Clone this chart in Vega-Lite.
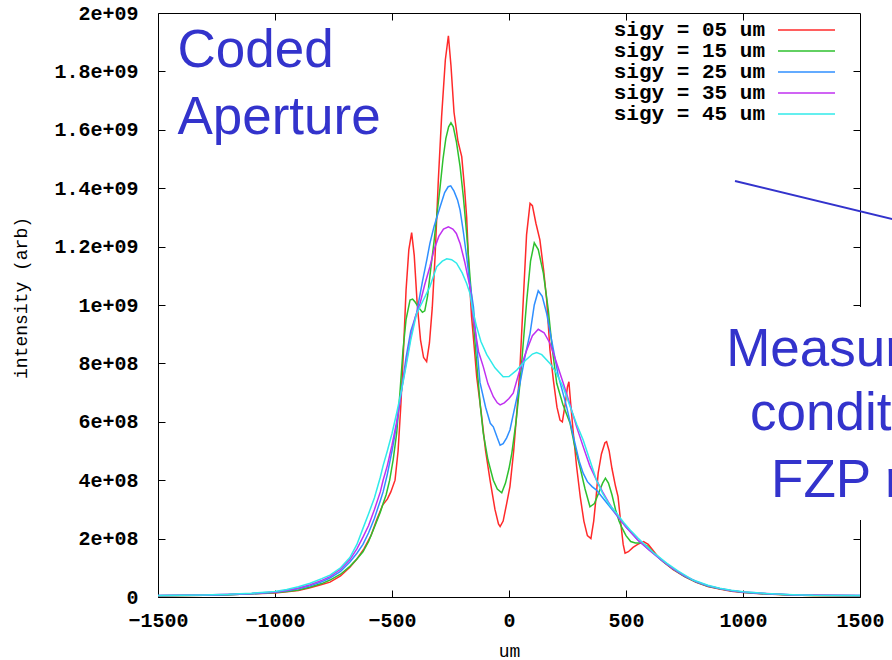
{
"$schema": "https://vega.github.io/schema/vega-lite/v6.json",
"width": 702, "height": 584,
"autosize": {"type": "none"},
"padding": {"left": 158, "top": 13, "right": 32, "bottom": 63},
"background": "white",
"config": {"view": {"stroke": "black", "strokeWidth": 1}},
"datasets": {"curves": [
{"s":"sigy = 05 um","x":-1500,"y":0.004e9},{"s":"sigy = 05 um","x":-1300,"y":0.006e9},{"s":"sigy = 05 um","x":-1200,"y":0.008e9},{"s":"sigy = 05 um","x":-1100,"y":0.011e9},{"s":"sigy = 05 um","x":-1000,"y":0.014e9},{"s":"sigy = 05 um","x":-950,"y":0.018e9},{"s":"sigy = 05 um","x":-900,"y":0.022e9},{"s":"sigy = 05 um","x":-850,"y":0.032e9},{"s":"sigy = 05 um","x":-800,"y":0.043e9},{"s":"sigy = 05 um","x":-765,"y":0.051e9},{"s":"sigy = 05 um","x":-720,"y":0.072e9},{"s":"sigy = 05 um","x":-680,"y":0.102e9},{"s":"sigy = 05 um","x":-650,"y":0.13e9},{"s":"sigy = 05 um","x":-620,"y":0.165e9},{"s":"sigy = 05 um","x":-590,"y":0.21e9},{"s":"sigy = 05 um","x":-565,"y":0.265e9},{"s":"sigy = 05 um","x":-540,"y":0.315e9},{"s":"sigy = 05 um","x":-520,"y":0.335e9},{"s":"sigy = 05 um","x":-505,"y":0.36e9},{"s":"sigy = 05 um","x":-487,"y":0.40e9},{"s":"sigy = 05 um","x":-474,"y":0.50e9},{"s":"sigy = 05 um","x":-462,"y":0.66e9},{"s":"sigy = 05 um","x":-450,"y":0.86e9},{"s":"sigy = 05 um","x":-440,"y":1.05e9},{"s":"sigy = 05 um","x":-428,"y":1.19e9},{"s":"sigy = 05 um","x":-416,"y":1.248e9},{"s":"sigy = 05 um","x":-405,"y":1.17e9},{"s":"sigy = 05 um","x":-392,"y":1.0e9},{"s":"sigy = 05 um","x":-378,"y":0.88e9},{"s":"sigy = 05 um","x":-365,"y":0.82e9},{"s":"sigy = 05 um","x":-352,"y":0.806e9},{"s":"sigy = 05 um","x":-340,"y":0.87e9},{"s":"sigy = 05 um","x":-328,"y":0.99e9},{"s":"sigy = 05 um","x":-316,"y":1.165e9},{"s":"sigy = 05 um","x":-302,"y":1.428e9},{"s":"sigy = 05 um","x":-288,"y":1.645e9},{"s":"sigy = 05 um","x":-272,"y":1.84e9},{"s":"sigy = 05 um","x":-259,"y":1.922e9},{"s":"sigy = 05 um","x":-248,"y":1.82e9},{"s":"sigy = 05 um","x":-235,"y":1.66e9},{"s":"sigy = 05 um","x":-218,"y":1.56e9},{"s":"sigy = 05 um","x":-202,"y":1.508e9},{"s":"sigy = 05 um","x":-190,"y":1.40e9},{"s":"sigy = 05 um","x":-181,"y":1.30e9},{"s":"sigy = 05 um","x":-170,"y":1.10e9},{"s":"sigy = 05 um","x":-160,"y":0.96e9},{"s":"sigy = 05 um","x":-148,"y":0.85e9},{"s":"sigy = 05 um","x":-138,"y":0.754e9},{"s":"sigy = 05 um","x":-120,"y":0.64e9},{"s":"sigy = 05 um","x":-100,"y":0.50e9},{"s":"sigy = 05 um","x":-81,"y":0.40e9},{"s":"sigy = 05 um","x":-60,"y":0.30e9},{"s":"sigy = 05 um","x":-45,"y":0.25e9},{"s":"sigy = 05 um","x":-38,"y":0.241e9},{"s":"sigy = 05 um","x":-25,"y":0.26e9},{"s":"sigy = 05 um","x":-10,"y":0.32e9},{"s":"sigy = 05 um","x":4,"y":0.378e9},{"s":"sigy = 05 um","x":20,"y":0.50e9},{"s":"sigy = 05 um","x":35,"y":0.65e9},{"s":"sigy = 05 um","x":47,"y":0.789e9},{"s":"sigy = 05 um","x":61,"y":1.017e9},{"s":"sigy = 05 um","x":75,"y":1.24e9},{"s":"sigy = 05 um","x":90,"y":1.348e9},{"s":"sigy = 05 um","x":100,"y":1.34e9},{"s":"sigy = 05 um","x":115,"y":1.28e9},{"s":"sigy = 05 um","x":132,"y":1.223e9},{"s":"sigy = 05 um","x":148,"y":1.12e9},{"s":"sigy = 05 um","x":161,"y":1.017e9},{"s":"sigy = 05 um","x":175,"y":0.846e9},{"s":"sigy = 05 um","x":190,"y":0.74e9},{"s":"sigy = 05 um","x":205,"y":0.65e9},{"s":"sigy = 05 um","x":218,"y":0.606e9},{"s":"sigy = 05 um","x":228,"y":0.60e9},{"s":"sigy = 05 um","x":240,"y":0.66e9},{"s":"sigy = 05 um","x":250,"y":0.72e9},{"s":"sigy = 05 um","x":256,"y":0.737e9},{"s":"sigy = 05 um","x":265,"y":0.65e9},{"s":"sigy = 05 um","x":275,"y":0.56e9},{"s":"sigy = 05 um","x":289,"y":0.446e9},{"s":"sigy = 05 um","x":305,"y":0.34e9},{"s":"sigy = 05 um","x":320,"y":0.26e9},{"s":"sigy = 05 um","x":335,"y":0.21e9},{"s":"sigy = 05 um","x":350,"y":0.20e9},{"s":"sigy = 05 um","x":362,"y":0.26e9},{"s":"sigy = 05 um","x":372,"y":0.34e9},{"s":"sigy = 05 um","x":381,"y":0.424e9},{"s":"sigy = 05 um","x":395,"y":0.49e9},{"s":"sigy = 05 um","x":410,"y":0.528e9},{"s":"sigy = 05 um","x":417,"y":0.532e9},{"s":"sigy = 05 um","x":428,"y":0.50e9},{"s":"sigy = 05 um","x":440,"y":0.44e9},{"s":"sigy = 05 um","x":455,"y":0.38e9},{"s":"sigy = 05 um","x":466,"y":0.344e9},{"s":"sigy = 05 um","x":478,"y":0.25e9},{"s":"sigy = 05 um","x":488,"y":0.18e9},{"s":"sigy = 05 um","x":496,"y":0.15e9},{"s":"sigy = 05 um","x":510,"y":0.155e9},{"s":"sigy = 05 um","x":530,"y":0.17e9},{"s":"sigy = 05 um","x":550,"y":0.18e9},{"s":"sigy = 05 um","x":575,"y":0.19e9},{"s":"sigy = 05 um","x":595,"y":0.18e9},{"s":"sigy = 05 um","x":615,"y":0.16e9},{"s":"sigy = 05 um","x":635,"y":0.14e9},{"s":"sigy = 05 um","x":660,"y":0.12e9},{"s":"sigy = 05 um","x":700,"y":0.095e9},{"s":"sigy = 05 um","x":750,"y":0.07e9},{"s":"sigy = 05 um","x":800,"y":0.05e9},{"s":"sigy = 05 um","x":850,"y":0.036e9},{"s":"sigy = 05 um","x":900,"y":0.027e9},{"s":"sigy = 05 um","x":950,"y":0.02e9},{"s":"sigy = 05 um","x":1000,"y":0.015e9},{"s":"sigy = 05 um","x":1100,"y":0.01e9},{"s":"sigy = 05 um","x":1200,"y":0.007e9},{"s":"sigy = 05 um","x":1300,"y":0.005e9},{"s":"sigy = 05 um","x":1500,"y":0.004e9},
{"s":"sigy = 15 um","x":-1500,"y":0.004e9},{"s":"sigy = 15 um","x":-1300,"y":0.006e9},{"s":"sigy = 15 um","x":-1200,"y":0.008e9},{"s":"sigy = 15 um","x":-1100,"y":0.011e9},{"s":"sigy = 15 um","x":-1000,"y":0.015e9},{"s":"sigy = 15 um","x":-950,"y":0.019e9},{"s":"sigy = 15 um","x":-900,"y":0.024e9},{"s":"sigy = 15 um","x":-850,"y":0.034e9},{"s":"sigy = 15 um","x":-800,"y":0.046e9},{"s":"sigy = 15 um","x":-765,"y":0.058e9},{"s":"sigy = 15 um","x":-720,"y":0.078e9},{"s":"sigy = 15 um","x":-680,"y":0.105e9},{"s":"sigy = 15 um","x":-650,"y":0.13e9},{"s":"sigy = 15 um","x":-624,"y":0.155e9},{"s":"sigy = 15 um","x":-600,"y":0.19e9},{"s":"sigy = 15 um","x":-575,"y":0.24e9},{"s":"sigy = 15 um","x":-550,"y":0.29e9},{"s":"sigy = 15 um","x":-538,"y":0.32e9},{"s":"sigy = 15 um","x":-525,"y":0.35e9},{"s":"sigy = 15 um","x":-510,"y":0.40e9},{"s":"sigy = 15 um","x":-495,"y":0.47e9},{"s":"sigy = 15 um","x":-480,"y":0.561e9},{"s":"sigy = 15 um","x":-466,"y":0.70e9},{"s":"sigy = 15 um","x":-453,"y":0.846e9},{"s":"sigy = 15 um","x":-440,"y":0.95e9},{"s":"sigy = 15 um","x":-423,"y":1.017e9},{"s":"sigy = 15 um","x":-412,"y":1.02e9},{"s":"sigy = 15 um","x":-402,"y":1.011e9},{"s":"sigy = 15 um","x":-385,"y":0.99e9},{"s":"sigy = 15 um","x":-370,"y":0.975e9},{"s":"sigy = 15 um","x":-360,"y":0.98e9},{"s":"sigy = 15 um","x":-348,"y":1.03e9},{"s":"sigy = 15 um","x":-335,"y":1.12e9},{"s":"sigy = 15 um","x":-320,"y":1.22e9},{"s":"sigy = 15 um","x":-308,"y":1.31e9},{"s":"sigy = 15 um","x":-295,"y":1.40e9},{"s":"sigy = 15 um","x":-282,"y":1.50e9},{"s":"sigy = 15 um","x":-270,"y":1.57e9},{"s":"sigy = 15 um","x":-258,"y":1.61e9},{"s":"sigy = 15 um","x":-248,"y":1.624e9},{"s":"sigy = 15 um","x":-238,"y":1.61e9},{"s":"sigy = 15 um","x":-225,"y":1.56e9},{"s":"sigy = 15 um","x":-209,"y":1.474e9},{"s":"sigy = 15 um","x":-195,"y":1.37e9},{"s":"sigy = 15 um","x":-181,"y":1.245e9},{"s":"sigy = 15 um","x":-170,"y":1.13e9},{"s":"sigy = 15 um","x":-159,"y":1.017e9},{"s":"sigy = 15 um","x":-148,"y":0.90e9},{"s":"sigy = 15 um","x":-135,"y":0.77e9},{"s":"sigy = 15 um","x":-122,"y":0.65e9},{"s":"sigy = 15 um","x":-110,"y":0.561e9},{"s":"sigy = 15 um","x":-90,"y":0.47e9},{"s":"sigy = 15 um","x":-67,"y":0.40e9},{"s":"sigy = 15 um","x":-50,"y":0.37e9},{"s":"sigy = 15 um","x":-31,"y":0.357e9},{"s":"sigy = 15 um","x":-15,"y":0.39e9},{"s":"sigy = 15 um","x":0,"y":0.44e9},{"s":"sigy = 15 um","x":12,"y":0.492e9},{"s":"sigy = 15 um","x":30,"y":0.60e9},{"s":"sigy = 15 um","x":47,"y":0.732e9},{"s":"sigy = 15 um","x":62,"y":0.88e9},{"s":"sigy = 15 um","x":76,"y":1.017e9},{"s":"sigy = 15 um","x":92,"y":1.15e9},{"s":"sigy = 15 um","x":108,"y":1.213e9},{"s":"sigy = 15 um","x":125,"y":1.19e9},{"s":"sigy = 15 um","x":147,"y":1.108e9},{"s":"sigy = 15 um","x":168,"y":0.983e9},{"s":"sigy = 15 um","x":185,"y":0.85e9},{"s":"sigy = 15 um","x":204,"y":0.732e9},{"s":"sigy = 15 um","x":230,"y":0.66e9},{"s":"sigy = 15 um","x":261,"y":0.595e9},{"s":"sigy = 15 um","x":280,"y":0.52e9},{"s":"sigy = 15 um","x":303,"y":0.446e9},{"s":"sigy = 15 um","x":325,"y":0.37e9},{"s":"sigy = 15 um","x":346,"y":0.309e9},{"s":"sigy = 15 um","x":365,"y":0.32e9},{"s":"sigy = 15 um","x":385,"y":0.36e9},{"s":"sigy = 15 um","x":400,"y":0.39e9},{"s":"sigy = 15 um","x":412,"y":0.407e9},{"s":"sigy = 15 um","x":425,"y":0.39e9},{"s":"sigy = 15 um","x":440,"y":0.35e9},{"s":"sigy = 15 um","x":455,"y":0.30e9},{"s":"sigy = 15 um","x":470,"y":0.26e9},{"s":"sigy = 15 um","x":481,"y":0.24e9},{"s":"sigy = 15 um","x":500,"y":0.21e9},{"s":"sigy = 15 um","x":520,"y":0.19e9},{"s":"sigy = 15 um","x":540,"y":0.185e9},{"s":"sigy = 15 um","x":565,"y":0.185e9},{"s":"sigy = 15 um","x":590,"y":0.175e9},{"s":"sigy = 15 um","x":620,"y":0.15e9},{"s":"sigy = 15 um","x":650,"y":0.127e9},{"s":"sigy = 15 um","x":700,"y":0.096e9},{"s":"sigy = 15 um","x":750,"y":0.071e9},{"s":"sigy = 15 um","x":800,"y":0.051e9},{"s":"sigy = 15 um","x":850,"y":0.037e9},{"s":"sigy = 15 um","x":900,"y":0.028e9},{"s":"sigy = 15 um","x":950,"y":0.021e9},{"s":"sigy = 15 um","x":1000,"y":0.016e9},{"s":"sigy = 15 um","x":1100,"y":0.011e9},{"s":"sigy = 15 um","x":1200,"y":0.007e9},{"s":"sigy = 15 um","x":1300,"y":0.005e9},{"s":"sigy = 15 um","x":1500,"y":0.004e9},
{"s":"sigy = 25 um","x":-1500,"y":0.005e9},{"s":"sigy = 25 um","x":-1300,"y":0.006e9},{"s":"sigy = 25 um","x":-1200,"y":0.008e9},{"s":"sigy = 25 um","x":-1100,"y":0.011e9},{"s":"sigy = 25 um","x":-1000,"y":0.016e9},{"s":"sigy = 25 um","x":-950,"y":0.021e9},{"s":"sigy = 25 um","x":-900,"y":0.028e9},{"s":"sigy = 25 um","x":-850,"y":0.038e9},{"s":"sigy = 25 um","x":-800,"y":0.052e9},{"s":"sigy = 25 um","x":-765,"y":0.065e9},{"s":"sigy = 25 um","x":-720,"y":0.088e9},{"s":"sigy = 25 um","x":-680,"y":0.12e9},{"s":"sigy = 25 um","x":-650,"y":0.15e9},{"s":"sigy = 25 um","x":-624,"y":0.18e9},{"s":"sigy = 25 um","x":-600,"y":0.22e9},{"s":"sigy = 25 um","x":-575,"y":0.27e9},{"s":"sigy = 25 um","x":-550,"y":0.33e9},{"s":"sigy = 25 um","x":-538,"y":0.36e9},{"s":"sigy = 25 um","x":-520,"y":0.42e9},{"s":"sigy = 25 um","x":-500,"y":0.50e9},{"s":"sigy = 25 um","x":-480,"y":0.59e9},{"s":"sigy = 25 um","x":-459,"y":0.709e9},{"s":"sigy = 25 um","x":-440,"y":0.82e9},{"s":"sigy = 25 um","x":-420,"y":0.91e9},{"s":"sigy = 25 um","x":-395,"y":0.971e9},{"s":"sigy = 25 um","x":-370,"y":1.08e9},{"s":"sigy = 25 um","x":-350,"y":1.16e9},{"s":"sigy = 25 um","x":-338,"y":1.211e9},{"s":"sigy = 25 um","x":-320,"y":1.27e9},{"s":"sigy = 25 um","x":-295,"y":1.335e9},{"s":"sigy = 25 um","x":-275,"y":1.385e9},{"s":"sigy = 25 um","x":-260,"y":1.405e9},{"s":"sigy = 25 um","x":-249,"y":1.408e9},{"s":"sigy = 25 um","x":-235,"y":1.39e9},{"s":"sigy = 25 um","x":-220,"y":1.36e9},{"s":"sigy = 25 um","x":-209,"y":1.325e9},{"s":"sigy = 25 um","x":-195,"y":1.25e9},{"s":"sigy = 25 um","x":-181,"y":1.165e9},{"s":"sigy = 25 um","x":-168,"y":1.08e9},{"s":"sigy = 25 um","x":-152,"y":0.994e9},{"s":"sigy = 25 um","x":-140,"y":0.88e9},{"s":"sigy = 25 um","x":-124,"y":0.735e9},{"s":"sigy = 25 um","x":-100,"y":0.65e9},{"s":"sigy = 25 um","x":-80,"y":0.595e9},{"s":"sigy = 25 um","x":-67,"y":0.583e9},{"s":"sigy = 25 um","x":-50,"y":0.545e9},{"s":"sigy = 25 um","x":-38,"y":0.52e9},{"s":"sigy = 25 um","x":-25,"y":0.525e9},{"s":"sigy = 25 um","x":-10,"y":0.545e9},{"s":"sigy = 25 um","x":4,"y":0.572e9},{"s":"sigy = 25 um","x":25,"y":0.65e9},{"s":"sigy = 25 um","x":47,"y":0.732e9},{"s":"sigy = 25 um","x":70,"y":0.83e9},{"s":"sigy = 25 um","x":90,"y":0.903e9},{"s":"sigy = 25 um","x":108,"y":1.0e9},{"s":"sigy = 25 um","x":125,"y":1.049e9},{"s":"sigy = 25 um","x":142,"y":1.03e9},{"s":"sigy = 25 um","x":161,"y":0.971e9},{"s":"sigy = 25 um","x":175,"y":0.91e9},{"s":"sigy = 25 um","x":190,"y":0.846e9},{"s":"sigy = 25 um","x":210,"y":0.76e9},{"s":"sigy = 25 um","x":230,"y":0.70e9},{"s":"sigy = 25 um","x":246,"y":0.652e9},{"s":"sigy = 25 um","x":275,"y":0.55e9},{"s":"sigy = 25 um","x":300,"y":0.465e9},{"s":"sigy = 25 um","x":317,"y":0.424e9},{"s":"sigy = 25 um","x":335,"y":0.395e9},{"s":"sigy = 25 um","x":355,"y":0.378e9},{"s":"sigy = 25 um","x":374,"y":0.366e9},{"s":"sigy = 25 um","x":395,"y":0.345e9},{"s":"sigy = 25 um","x":420,"y":0.32e9},{"s":"sigy = 25 um","x":445,"y":0.295e9},{"s":"sigy = 25 um","x":470,"y":0.27e9},{"s":"sigy = 25 um","x":500,"y":0.24e9},{"s":"sigy = 25 um","x":550,"y":0.195e9},{"s":"sigy = 25 um","x":600,"y":0.16e9},{"s":"sigy = 25 um","x":650,"y":0.127e9},{"s":"sigy = 25 um","x":700,"y":0.097e9},{"s":"sigy = 25 um","x":750,"y":0.072e9},{"s":"sigy = 25 um","x":800,"y":0.052e9},{"s":"sigy = 25 um","x":850,"y":0.038e9},{"s":"sigy = 25 um","x":900,"y":0.029e9},{"s":"sigy = 25 um","x":950,"y":0.021e9},{"s":"sigy = 25 um","x":1000,"y":0.016e9},{"s":"sigy = 25 um","x":1100,"y":0.011e9},{"s":"sigy = 25 um","x":1200,"y":0.008e9},{"s":"sigy = 25 um","x":1300,"y":0.006e9},{"s":"sigy = 25 um","x":1500,"y":0.005e9},
{"s":"sigy = 35 um","x":-1500,"y":0.005e9},{"s":"sigy = 35 um","x":-1300,"y":0.007e9},{"s":"sigy = 35 um","x":-1200,"y":0.009e9},{"s":"sigy = 35 um","x":-1100,"y":0.012e9},{"s":"sigy = 35 um","x":-1000,"y":0.017e9},{"s":"sigy = 35 um","x":-950,"y":0.023e9},{"s":"sigy = 35 um","x":-900,"y":0.031e9},{"s":"sigy = 35 um","x":-850,"y":0.042e9},{"s":"sigy = 35 um","x":-800,"y":0.057e9},{"s":"sigy = 35 um","x":-765,"y":0.07e9},{"s":"sigy = 35 um","x":-720,"y":0.095e9},{"s":"sigy = 35 um","x":-680,"y":0.128e9},{"s":"sigy = 35 um","x":-650,"y":0.165e9},{"s":"sigy = 35 um","x":-624,"y":0.205e9},{"s":"sigy = 35 um","x":-600,"y":0.245e9},{"s":"sigy = 35 um","x":-575,"y":0.30e9},{"s":"sigy = 35 um","x":-550,"y":0.36e9},{"s":"sigy = 35 um","x":-538,"y":0.40e9},{"s":"sigy = 35 um","x":-520,"y":0.45e9},{"s":"sigy = 35 um","x":-500,"y":0.52e9},{"s":"sigy = 35 um","x":-480,"y":0.60e9},{"s":"sigy = 35 um","x":-459,"y":0.709e9},{"s":"sigy = 35 um","x":-440,"y":0.80e9},{"s":"sigy = 35 um","x":-420,"y":0.89e9},{"s":"sigy = 35 um","x":-400,"y":0.96e9},{"s":"sigy = 35 um","x":-380,"y":1.006e9},{"s":"sigy = 35 um","x":-360,"y":1.07e9},{"s":"sigy = 35 um","x":-338,"y":1.131e9},{"s":"sigy = 35 um","x":-320,"y":1.19e9},{"s":"sigy = 35 um","x":-300,"y":1.235e9},{"s":"sigy = 35 um","x":-280,"y":1.26e9},{"s":"sigy = 35 um","x":-259,"y":1.268e9},{"s":"sigy = 35 um","x":-240,"y":1.26e9},{"s":"sigy = 35 um","x":-225,"y":1.245e9},{"s":"sigy = 35 um","x":-209,"y":1.211e9},{"s":"sigy = 35 um","x":-190,"y":1.15e9},{"s":"sigy = 35 um","x":-167,"y":1.063e9},{"s":"sigy = 35 um","x":-152,"y":0.949e9},{"s":"sigy = 35 um","x":-130,"y":0.84e9},{"s":"sigy = 35 um","x":-110,"y":0.789e9},{"s":"sigy = 35 um","x":-90,"y":0.73e9},{"s":"sigy = 35 um","x":-67,"y":0.686e9},{"s":"sigy = 35 um","x":-50,"y":0.665e9},{"s":"sigy = 35 um","x":-38,"y":0.658e9},{"s":"sigy = 35 um","x":-20,"y":0.665e9},{"s":"sigy = 35 um","x":0,"y":0.68e9},{"s":"sigy = 35 um","x":18,"y":0.698e9},{"s":"sigy = 35 um","x":40,"y":0.76e9},{"s":"sigy = 35 um","x":60,"y":0.81e9},{"s":"sigy = 35 um","x":76,"y":0.846e9},{"s":"sigy = 35 um","x":100,"y":0.895e9},{"s":"sigy = 35 um","x":125,"y":0.917e9},{"s":"sigy = 35 um","x":150,"y":0.905e9},{"s":"sigy = 35 um","x":175,"y":0.869e9},{"s":"sigy = 35 um","x":200,"y":0.81e9},{"s":"sigy = 35 um","x":232,"y":0.732e9},{"s":"sigy = 35 um","x":260,"y":0.66e9},{"s":"sigy = 35 um","x":290,"y":0.58e9},{"s":"sigy = 35 um","x":317,"y":0.515e9},{"s":"sigy = 35 um","x":345,"y":0.45e9},{"s":"sigy = 35 um","x":374,"y":0.40e9},{"s":"sigy = 35 um","x":400,"y":0.36e9},{"s":"sigy = 35 um","x":425,"y":0.325e9},{"s":"sigy = 35 um","x":450,"y":0.293e9},{"s":"sigy = 35 um","x":475,"y":0.265e9},{"s":"sigy = 35 um","x":500,"y":0.24e9},{"s":"sigy = 35 um","x":550,"y":0.196e9},{"s":"sigy = 35 um","x":600,"y":0.16e9},{"s":"sigy = 35 um","x":650,"y":0.128e9},{"s":"sigy = 35 um","x":700,"y":0.098e9},{"s":"sigy = 35 um","x":750,"y":0.073e9},{"s":"sigy = 35 um","x":800,"y":0.053e9},{"s":"sigy = 35 um","x":850,"y":0.039e9},{"s":"sigy = 35 um","x":900,"y":0.029e9},{"s":"sigy = 35 um","x":950,"y":0.022e9},{"s":"sigy = 35 um","x":1000,"y":0.017e9},{"s":"sigy = 35 um","x":1100,"y":0.012e9},{"s":"sigy = 35 um","x":1200,"y":0.008e9},{"s":"sigy = 35 um","x":1300,"y":0.006e9},{"s":"sigy = 35 um","x":1500,"y":0.005e9},
{"s":"sigy = 45 um","x":-1500,"y":0.005e9},{"s":"sigy = 45 um","x":-1300,"y":0.007e9},{"s":"sigy = 45 um","x":-1200,"y":0.009e9},{"s":"sigy = 45 um","x":-1100,"y":0.013e9},{"s":"sigy = 45 um","x":-1000,"y":0.019e9},{"s":"sigy = 45 um","x":-950,"y":0.026e9},{"s":"sigy = 45 um","x":-900,"y":0.035e9},{"s":"sigy = 45 um","x":-850,"y":0.047e9},{"s":"sigy = 45 um","x":-800,"y":0.063e9},{"s":"sigy = 45 um","x":-765,"y":0.075e9},{"s":"sigy = 45 um","x":-720,"y":0.10e9},{"s":"sigy = 45 um","x":-680,"y":0.135e9},{"s":"sigy = 45 um","x":-650,"y":0.18e9},{"s":"sigy = 45 um","x":-624,"y":0.235e9},{"s":"sigy = 45 um","x":-600,"y":0.285e9},{"s":"sigy = 45 um","x":-575,"y":0.34e9},{"s":"sigy = 45 um","x":-550,"y":0.41e9},{"s":"sigy = 45 um","x":-538,"y":0.45e9},{"s":"sigy = 45 um","x":-520,"y":0.50e9},{"s":"sigy = 45 um","x":-500,"y":0.56e9},{"s":"sigy = 45 um","x":-480,"y":0.63e9},{"s":"sigy = 45 um","x":-459,"y":0.709e9},{"s":"sigy = 45 um","x":-440,"y":0.79e9},{"s":"sigy = 45 um","x":-420,"y":0.88e9},{"s":"sigy = 45 um","x":-395,"y":0.97e9},{"s":"sigy = 45 um","x":-366,"y":1.017e9},{"s":"sigy = 45 um","x":-338,"y":1.063e9},{"s":"sigy = 45 um","x":-309,"y":1.131e9},{"s":"sigy = 45 um","x":-285,"y":1.15e9},{"s":"sigy = 45 um","x":-266,"y":1.158e9},{"s":"sigy = 45 um","x":-245,"y":1.155e9},{"s":"sigy = 45 um","x":-224,"y":1.143e9},{"s":"sigy = 45 um","x":-200,"y":1.11e9},{"s":"sigy = 45 um","x":-181,"y":1.074e9},{"s":"sigy = 45 um","x":-167,"y":1.04e9},{"s":"sigy = 45 um","x":-152,"y":0.97e9},{"s":"sigy = 45 um","x":-138,"y":0.925e9},{"s":"sigy = 45 um","x":-120,"y":0.875e9},{"s":"sigy = 45 um","x":-95,"y":0.83e9},{"s":"sigy = 45 um","x":-60,"y":0.785e9},{"s":"sigy = 45 um","x":-25,"y":0.754e9},{"s":"sigy = 45 um","x":0,"y":0.755e9},{"s":"sigy = 45 um","x":33,"y":0.777e9},{"s":"sigy = 45 um","x":70,"y":0.81e9},{"s":"sigy = 45 um","x":100,"y":0.832e9},{"s":"sigy = 45 um","x":118,"y":0.837e9},{"s":"sigy = 45 um","x":140,"y":0.83e9},{"s":"sigy = 45 um","x":175,"y":0.80e9},{"s":"sigy = 45 um","x":200,"y":0.77e9},{"s":"sigy = 45 um","x":231,"y":0.72e9},{"s":"sigy = 45 um","x":260,"y":0.655e9},{"s":"sigy = 45 um","x":290,"y":0.59e9},{"s":"sigy = 45 um","x":317,"y":0.538e9},{"s":"sigy = 45 um","x":345,"y":0.47e9},{"s":"sigy = 45 um","x":374,"y":0.40e9},{"s":"sigy = 45 um","x":400,"y":0.355e9},{"s":"sigy = 45 um","x":430,"y":0.315e9},{"s":"sigy = 45 um","x":460,"y":0.287e9},{"s":"sigy = 45 um","x":490,"y":0.255e9},{"s":"sigy = 45 um","x":517,"y":0.23e9},{"s":"sigy = 45 um","x":550,"y":0.203e9},{"s":"sigy = 45 um","x":573,"y":0.185e9},{"s":"sigy = 45 um","x":620,"y":0.15e9},{"s":"sigy = 45 um","x":674,"y":0.116e9},{"s":"sigy = 45 um","x":720,"y":0.09e9},{"s":"sigy = 45 um","x":787,"y":0.058e9},{"s":"sigy = 45 um","x":850,"y":0.04e9},{"s":"sigy = 45 um","x":900,"y":0.03e9},{"s":"sigy = 45 um","x":950,"y":0.023e9},{"s":"sigy = 45 um","x":1000,"y":0.018e9},{"s":"sigy = 45 um","x":1100,"y":0.012e9},{"s":"sigy = 45 um","x":1214,"y":0.008e9},{"s":"sigy = 45 um","x":1300,"y":0.006e9},{"s":"sigy = 45 um","x":1500,"y":0.005e9}
]},
"layer": [
{
"data": {"name": "curves"},
"mark": {"type": "line", "strokeWidth": 1.5, "clip": true},
"encoding": {
"x": {"field": "x", "type": "quantitative",
"scale": {"domain": [-1500, 1500], "nice": false, "zero": false},
"axis": {"orient": "bottom", "values": [-1500, -1000, -500, 0, 500, 1000, 1500], "format": "d", "tickSize": -7, "tickColor": "black", "tickWidth": 1, "domain": false, "grid": false, "labelFont": "Liberation Mono", "labelFontSize": 20, "labelFontWeight": "bold", "labelColor": "black", "labelPadding": 20, "labelFlush": false, "labelOverlap": false, "labelBound": false, "title": "um", "titleFont": "Liberation Mono", "titleFontSize": 18, "titleFontWeight": "normal", "titleColor": "black", "titlePadding": 12}},
"y": {"field": "y", "type": "quantitative",
"scale": {"domain": [0, 2000000000], "nice": false, "zero": false},
"axis": {"orient": "left", "values": [0, 200000000, 400000000, 600000000, 800000000, 1000000000, 1200000000, 1400000000, 1600000000, 1800000000, 2000000000], "labelExpr": "datum.value == 0 ? '0' : (datum.value >= 1e9 ? format(datum.value/1e9, '.2~f') + 'e+09' : format(datum.value/1e8, '.2~f') + 'e+08')", "tickSize": -7, "tickColor": "black", "tickWidth": 1, "domain": false, "grid": false, "labelFont": "Liberation Mono", "labelFontSize": 20, "labelFontWeight": "bold", "labelColor": "black", "labelPadding": 27, "labelOverlap": false, "labelBound": false, "labelFlush": false, "title": "intensity (arb)", "titleFont": "Liberation Mono", "titleFontSize": 18, "titleFontWeight": "normal", "titleColor": "black", "titlePadding": 23, "titleY": 284.5}},
"color": {"field": "s", "type": "nominal",
"scale": {"domain": ["sigy = 05 um", "sigy = 15 um", "sigy = 25 um", "sigy = 35 um", "sigy = 45 um"], "range": ["#ff2a2a", "#2ec02e", "#2f8fff", "#c030f0", "#30eaea"]},
"legend": {"orient": "none", "legendX": 638, "legendY": 6.5, "title": null, "symbolType": "M-2.924,0H2.924", "symbolSize": 380, "symbolStrokeWidth": 1.5, "symbolFillColor": "transparent", "labelFont": "Liberation Mono", "labelFontSize": 21, "labelFontWeight": "bold", "labelColor": "black", "labelAlign": "right", "labelOffset": -52, "rowPadding": -1, "labelLimit": 400, "padding": 0}}
}
},
{
"data": {"values": [{}]},
"mark": {"type": "rect", "fill": "white", "clip": false},
"encoding": {
"x": {"datum": 816, "type": "quantitative", "axis": {"orient": "top", "values": [-1000, -500, 0, 500, 1000], "labels": false, "tickSize": -7, "tickColor": "black", "domain": false, "grid": false, "title": null}},
"x2": {"datum": 2000},
"y": {"datum": 993000000, "type": "quantitative", "axis": {"orient": "right", "values": [200000000, 400000000, 600000000, 800000000, 1000000000, 1200000000, 1400000000, 1600000000, 1800000000], "labels": false, "tickSize": -7, "tickColor": "black", "domain": false, "grid": false, "title": null}},
"y2": {"datum": 263700000}
}
},
{
"data": {"values": [{}]},
"mark": {"type": "rule", "color": "#3333cc", "strokeWidth": 2, "clip": false},
"encoding": {
"x": {"datum": 965.8, "type": "quantitative", "axis": null},
"y": {"datum": 1424700000, "type": "quantitative", "axis": null},
"x2": {"datum": 2098},
"y2": {"datum": 1205500000}
}
},
{
"data": {"values": [{}]},
"mark": {"type": "text", "text": ["Coded", "Aperture"], "font": "Liberation Sans", "fontSize": 53, "color": "#3333cc", "align": "left", "baseline": "alphabetic", "lineHeight": 67, "clip": false},
"encoding": {
"x": {"datum": -1417, "type": "quantitative", "axis": null},
"y": {"datum": 1815000000, "type": "quantitative", "axis": null}
}
},
{
"data": {"values": [{}]},
"mark": {"type": "text", "text": "Measured", "font": "Liberation Sans", "fontSize": 53, "color": "#3333cc", "align": "left", "baseline": "alphabetic", "clip": false},
"encoding": {
"x": {"datum": 928, "type": "quantitative", "axis": null},
"y": {"datum": 791000000, "type": "quantitative", "axis": null}
}
},
{
"data": {"values": [{}]},
"mark": {"type": "text", "text": "conditions", "font": "Liberation Sans", "fontSize": 53, "color": "#3333cc", "align": "left", "baseline": "alphabetic", "clip": false},
"encoding": {
"x": {"datum": 1029.9, "type": "quantitative", "axis": null},
"y": {"datum": 572000000, "type": "quantitative", "axis": null}
}
},
{
"data": {"values": [{}]},
"mark": {"type": "text", "text": "FZP results", "font": "Liberation Sans", "fontSize": 53, "color": "#3333cc", "align": "left", "baseline": "alphabetic", "clip": false},
"encoding": {
"x": {"datum": 1119.7, "type": "quantitative", "axis": null},
"y": {"datum": 342000000, "type": "quantitative", "axis": null}
}
}
],
"resolve": {"axis": {"x": "independent", "y": "independent"}}
}
